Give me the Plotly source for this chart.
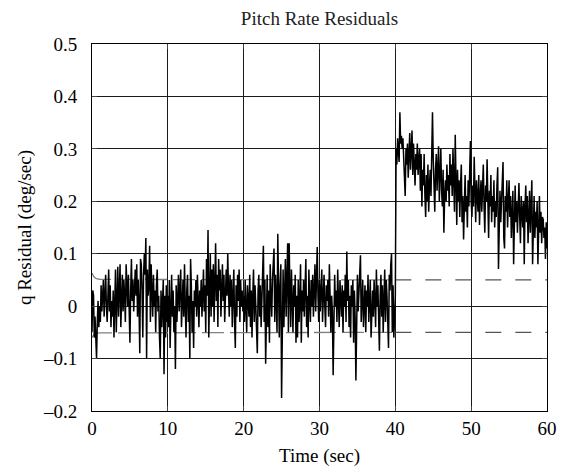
import plotly.graph_objects as go

# Pitch-rate residual history, sampled every 0.1 s from 0 to 60 s
dt = 0.1
residual_0_10 = [
    -0.05, 0.03, 0.02, -0.06, -0.02, -0.08, -0.10, -0.03, 0.01, -0.04,
    0.00, -0.03, 0.04, -0.01, 0.02, 0.05, -0.02, 0.01, 0.06, 0.00,
    -0.03, 0.02, 0.07, -0.01, 0.04, -0.04, 0.01, -0.02, 0.03, -0.06,
    0.01, 0.07, -0.05, 0.03, 0.075, -0.02, 0.04, 0.08, -0.04, 0.02,
    0.06, -0.01, 0.05, 0.02, -0.03, 0.08, 0.04, 0.00, 0.06, -0.02,
    -0.07, 0.03, 0.09, 0.01, 0.05, -0.01, 0.04, 0.07, 0.02, 0.08,
    -0.02, 0.05, 0.00, -0.09, 0.09, 0.08, 0.03, -0.06, 0.06, 0.10,
    0.06, 0.13, -0.10, 0.07, 0.02, 0.04, 0.115, -0.03, 0.08, 0.01,
    -0.02, 0.06, 0.00, 0.03, -0.05, 0.04, 0.07, -0.01, 0.02, -0.06,
    -0.10, 0.03, -0.04, 0.01, 0.05, -0.13, 0.02, -0.06, 0.04, -0.03,
]
residual_10_20 = [
    0.02, -0.04, 0.05, -0.08, 0.01, 0.06, -0.02, 0.03, -0.05, 0.00,
    -0.12, 0.04, -0.03, 0.02, 0.06, -0.01, 0.04, 0.07, -0.04, 0.01,
    0.05, -0.02, 0.08, 0.00, -0.06, 0.03, 0.06, -0.03, 0.02, -0.10,
    0.09, 0.04, -0.05, 0.01, -0.08, 0.03, 0.00, 0.05, -0.02, 0.06,
    0.01, -0.04, 0.03, 0.00, 0.05, -0.02, 0.02, 0.07, -0.01, 0.04,
    -0.05, 0.09, 0.02, 0.145, -0.06, 0.05, 0.10, -0.02, 0.07, 0.00,
    0.08, -0.03, 0.04, 0.12, 0.01, 0.06, -0.04, 0.09, 0.03, 0.07,
    -0.02, 0.05, 0.08, 0.01, 0.06, -0.03, 0.04, 0.07, 0.02, 0.10,
    0.03, -0.02, 0.06, 0.00, 0.05, -0.04, 0.02, 0.07, -0.03, -0.08,
    0.04, -0.02, 0.06, 0.01, 0.07, -0.03, 0.05, 0.00, 0.03, -0.01,
]
residual_20_30 = [
    0.02, -0.03, 0.05, 0.00, -0.05, 0.04, 0.01, -0.02, 0.06, -0.04,
    0.03, -0.06, 0.02, 0.07, -0.03, 0.04, 0.00, -0.05, -0.09, 0.03,
    0.06, -0.02, 0.04, -0.04, 0.02, 0.08, 0.115, -0.03, 0.05, -0.11,
    0.01, 0.06, -0.04, 0.03, -0.07, 0.08, 0.02, -0.02, 0.05, 0.10,
    0.11, -0.03, 0.06, 0.01, -0.05, 0.138, 0.03, -0.06, 0.04, 0.08,
    -0.175, 0.02, 0.07, -0.04, 0.05, 0.09, -0.02, 0.06, 0.12, -0.05,
    0.12, 0.03, -0.04, 0.07, 0.01, -0.05, 0.04, 0.00, 0.06, -0.07,
    0.02, -0.06, 0.05, -0.03, 0.01, 0.08, -0.07, 0.03, -0.01, 0.05,
    -0.02, 0.04, 0.09, -0.04, 0.02, -0.06, 0.07, 0.01, -0.03, 0.05,
    0.00, 0.06, -0.02, 0.03, 0.08, -0.01, 0.04, 0.113, 0.02, -0.03,
]
residual_30_40 = [
    0.05, -0.01, 0.03, 0.07, -0.03, 0.02, 0.06, 0.00, -0.04, 0.04,
    0.01, 0.05, -0.02, 0.08, 0.03, -0.05, 0.02, -0.01, -0.132, 0.04,
    0.06, 0.00, 0.03, -0.03, 0.07, 0.01, -0.04, 0.05, 0.02, -0.02,
    0.04, -0.05, 0.03, 0.00, 0.06, -0.03, 0.104, 0.01, 0.05, -0.04,
    0.02, -0.06, 0.04, 0.00, 0.05, -0.07, 0.03, -0.02, -0.142, 0.04,
    0.06, -0.01, 0.03, 0.07, 0.097, -0.03, 0.02, 0.05, -0.04, 0.01,
    0.04, -0.05, 0.03, 0.00, 0.06, -0.03, 0.02, 0.05, -0.06, 0.01,
    0.03, -0.02, 0.05, 0.01, -0.04, 0.07, 0.00, 0.04, -0.03, -0.085,
    0.02, 0.06, -0.02, 0.04, -0.05, 0.01, 0.07, -0.03, 0.05, 0.02,
    -0.04, -0.08, 0.06, 0.03, 0.08, 0.10, -0.05, 0.04, -0.06, 0.02,
]
residual_40_50 = [
    0.02, 0.30, 0.27, 0.32, 0.295, 0.275, 0.37, 0.31, 0.325, 0.30,
    0.32, 0.28, 0.25, 0.21, 0.30, 0.27, 0.31, 0.245, 0.29, 0.33,
    0.26, 0.30, 0.335, 0.25, 0.31, 0.27, 0.23, 0.29, 0.26, 0.31,
    0.25, 0.28, 0.30, 0.22, 0.29, 0.19, 0.26, 0.23, 0.29, 0.21,
    0.17, 0.25, 0.20, 0.27, 0.18, 0.23, 0.26, 0.21, 0.30, 0.37,
    0.28, 0.24, 0.18, 0.26, 0.29, 0.22, 0.25, 0.305, 0.20, 0.24,
    0.30, 0.22, 0.19, 0.26, 0.14, 0.21, 0.24, 0.20, 0.27, 0.22,
    0.25, 0.19, 0.29, 0.23, 0.27, 0.21, 0.30, 0.24, 0.18, 0.327,
    0.22, 0.155, 0.26, 0.20, 0.24, 0.17, 0.23, 0.27, 0.16, 0.21,
    0.127, 0.22, 0.25, 0.18, 0.21, 0.15, 0.24, 0.19, 0.26, 0.315,
]
residual_50_60 = [
    0.20, 0.17, 0.23, 0.19, 0.285, 0.22, 0.16, 0.24, 0.20, 0.18,
    0.25, 0.155, 0.21, 0.24, 0.18, 0.22, 0.27, 0.19, 0.14, 0.23,
    0.20, 0.28, 0.17, 0.13, 0.22, 0.19, 0.25, 0.16, 0.21, 0.18,
    0.24, 0.15, 0.20, 0.17, 0.23, 0.265, 0.071, 0.19, 0.22, 0.16,
    0.20, 0.25, 0.275, 0.13, 0.11, 0.21, 0.18, 0.24, 0.15, 0.20,
    0.24, 0.17, 0.21, 0.13, 0.19, 0.22, 0.08, 0.18, 0.23, 0.16,
    0.20, 0.14, 0.22, 0.235, 0.17, 0.12, 0.21, 0.18, 0.15, 0.20,
    0.08, 0.19, 0.23, 0.16, 0.21, 0.12, 0.18, 0.22, 0.14, 0.20,
    0.24, 0.08, 0.19, 0.21, 0.13, 0.18, 0.15, 0.20, 0.08, 0.17,
    0.21, 0.14, 0.18, 0.12, 0.17, 0.165, 0.13, 0.15, 0.09, 0.16,
    0.11,
]

residual = (residual_0_10 + residual_10_20 + residual_20_30
            + residual_30_40 + residual_40_50 + residual_50_60)
time = [round(i * dt, 1) for i in range(len(residual))]

# Detection threshold (before fault: settling band; after fault: fixed band)
thr_time_pre = [0.0, 0.2, 0.5, 1.0, 40.0]
thr_upper_pre = [0.063, 0.057, 0.053, 0.051, 0.05]
thr_lower_pre = [-0.060, -0.055, -0.052, -0.051, -0.05]
thr_time_post = [40.0, 60.0]
thr_upper_post = [0.05, 0.05]
thr_lower_post = [-0.05, -0.05]

x_ticks = [0, 10, 20, 30, 40, 50, 60]
y_ticks = [-0.2, -0.1, 0, 0.1, 0.2, 0.3, 0.4, 0.5]
y_tick_text = ["\u20130.2", "\u20130.1", "0", "0.1", "0.2", "0.3", "0.4", "0.5"]

FONT = "Liberation Serif, Times New Roman, serif"
FS = 19

fig = go.Figure()
for yy in (thr_upper_pre, thr_lower_pre):
    fig.add_trace(go.Scatter(x=thr_time_pre, y=yy, mode="lines",
                             line=dict(color="#808080", width=1.3, dash="22px,6px"),
                             hoverinfo="skip", showlegend=False))
for yy in (thr_upper_post, thr_lower_post):
    fig.add_trace(go.Scatter(x=thr_time_post, y=yy, mode="lines",
                             line=dict(color="#555555", width=1.3, dash="16px,14px"),
                             hoverinfo="skip", showlegend=False))
fig.add_trace(go.Scatter(x=time, y=residual, mode="lines",
                         line=dict(color="black", width=1.5),
                         showlegend=False))

fig.update_layout(
    width=561, height=472,
    margin=dict(l=92, r=14, t=44, b=61),
    paper_bgcolor="white", plot_bgcolor="white",
    font=dict(family=FONT, size=FS, color="black"),
    title=dict(text="Pitch Rate Residuals", x=0.5, xanchor="center",
               xref="paper", y=0.962, yanchor="middle",
               font=dict(family=FONT, size=FS, color="#222")),
)
fig.update_xaxes(
    range=[0, 60], tickvals=x_ticks, ticks="inside", ticklen=5,
    automargin=False,
    showline=True, linecolor="black", linewidth=1, mirror="ticks",
    showgrid=True, gridcolor="#1a1a1a", gridwidth=1, zeroline=False,
    title=dict(text="Time (sec)", font=dict(family=FONT, size=FS), standoff=10),
    tickfont=dict(family=FONT, size=FS),
)
fig.update_yaxes(
    range=[-0.2, 0.5], tickvals=y_ticks, ticktext=y_tick_text,
    ticks="inside", ticklen=5, ticklabelstandoff=10, automargin=False,
    showline=True, linecolor="black", linewidth=1, mirror="ticks",
    showgrid=True, gridcolor="#1a1a1a", gridwidth=1, zeroline=False,
    title=dict(text="q Residual (deg/sec)", font=dict(family=FONT, size=FS), standoff=6),
    tickfont=dict(family=FONT, size=FS),
)

fig.write_html("out.html")
